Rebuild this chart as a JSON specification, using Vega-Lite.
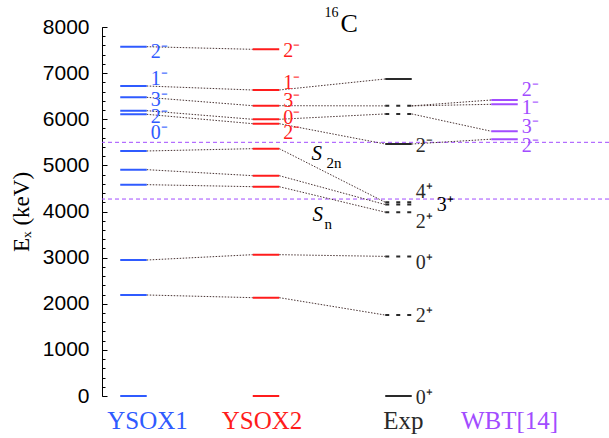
{
  "$schema": "https://vega.github.io/schema/vega-lite/v6.json",
  "width": 507,
  "height": 369,
  "autosize": {"type": "none"},
  "padding": {"left": 102, "top": 27, "right": 0, "bottom": 42},
  "background": "white",
  "config": {"view": {"stroke": null}, "axis": {"grid": false}},
  "resolve": {"axis": {"y": "independent"}},
  "datasets": {
    "slines": [
      {"name": "S2n", "E": 5500},
      {"name": "Sn", "E": 4270}
    ],
    "models": [
      {"m": "YSOX1"}, {"m": "YSOX2"}, {"m": "Exp"}, {"m": "WBT[14]"}
    ],
    "levels": [
      {"m": "YSOX1", "E": 7573, "jp": "2⁻", "lE": 7465, "tent": false},
      {"m": "YSOX1", "E": 6721, "jp": "1⁻", "lE": 6866, "tent": false},
      {"m": "YSOX1", "E": 6475, "jp": "3⁻", "lE": 6417, "tent": false},
      {"m": "YSOX1", "E": 6186, "jp": "2⁻", "lE": 6055, "tent": false},
      {"m": "YSOX1", "E": 6107, "jp": "0⁻", "lE": 5695, "tent": false},
      {"m": "YSOX1", "E": 5312, "jp": "", "lE": 5312, "tent": false},
      {"m": "YSOX1", "E": 4907, "jp": "", "lE": 4907, "tent": false},
      {"m": "YSOX1", "E": 4582, "jp": "", "lE": 4582, "tent": false},
      {"m": "YSOX1", "E": 2948, "jp": "", "lE": 2948, "tent": false},
      {"m": "YSOX1", "E": 2190, "jp": "", "lE": 2190, "tent": false},
      {"m": "YSOX1", "E": 0, "jp": "", "lE": 0, "tent": false},
      {"m": "YSOX2", "E": 7516, "jp": "2⁻", "lE": 7487, "tent": false},
      {"m": "YSOX2", "E": 6634, "jp": "1⁻", "lE": 6776, "tent": false},
      {"m": "YSOX2", "E": 6294, "jp": "3⁻", "lE": 6402, "tent": false},
      {"m": "YSOX2", "E": 5999, "jp": "0⁻", "lE": 6037, "tent": false},
      {"m": "YSOX2", "E": 5904, "jp": "2⁻", "lE": 5695, "tent": false},
      {"m": "YSOX2", "E": 5362, "jp": "", "lE": 5362, "tent": false},
      {"m": "YSOX2", "E": 4777, "jp": "", "lE": 4777, "tent": false},
      {"m": "YSOX2", "E": 4538, "jp": "", "lE": 4538, "tent": false},
      {"m": "YSOX2", "E": 3064, "jp": "", "lE": 3064, "tent": false},
      {"m": "YSOX2", "E": 2132, "jp": "", "lE": 2132, "tent": false},
      {"m": "YSOX2", "E": 0, "jp": "", "lE": 0, "tent": false},
      {"m": "Exp", "E": 6873, "jp": "", "lE": 6873, "tent": false},
      {"m": "Exp", "E": 6290, "jp": "", "lE": 6290, "tent": true},
      {"m": "Exp", "E": 6115, "jp": "", "lE": 6115, "tent": true},
      {"m": "Exp", "E": 5463, "jp": "2⁻", "lE": 5420, "tent": false},
      {"m": "Exp", "E": 4200, "jp": "4⁺", "lE": 4430, "tent": true},
      {"m": "Exp", "E": 4150, "jp": "3⁺", "lE": 4141, "tent": true},
      {"m": "Exp", "E": 3985, "jp": "2⁺", "lE": 3780, "tent": true},
      {"m": "Exp", "E": 3027, "jp": "0⁺", "lE": 2894, "tent": true},
      {"m": "Exp", "E": 1755, "jp": "2⁺", "lE": 1734, "tent": true},
      {"m": "Exp", "E": 0, "jp": "0⁺", "lE": -43, "tent": false},
      {"m": "WBT[14]", "E": 6417, "jp": "2⁻", "lE": 6634, "tent": false},
      {"m": "WBT[14]", "E": 6324, "jp": "1⁻", "lE": 6237, "tent": false},
      {"m": "WBT[14]", "E": 5740, "jp": "3⁻", "lE": 5825, "tent": false},
      {"m": "WBT[14]", "E": 5568, "jp": "2⁻", "lE": 5420, "tent": false}
    ],
    "links": [
      {"from": "YSOX1", "fE": 7573, "to": "YSOX2", "tE": 7516},
      {"from": "YSOX1", "fE": 6721, "to": "YSOX2", "tE": 6634},
      {"from": "YSOX1", "fE": 6475, "to": "YSOX2", "tE": 6294},
      {"from": "YSOX1", "fE": 6186, "to": "YSOX2", "tE": 5999},
      {"from": "YSOX1", "fE": 6107, "to": "YSOX2", "tE": 5904},
      {"from": "YSOX1", "fE": 5312, "to": "YSOX2", "tE": 5362},
      {"from": "YSOX1", "fE": 4907, "to": "YSOX2", "tE": 4777},
      {"from": "YSOX1", "fE": 4582, "to": "YSOX2", "tE": 4538},
      {"from": "YSOX1", "fE": 2948, "to": "YSOX2", "tE": 3064},
      {"from": "YSOX1", "fE": 2190, "to": "YSOX2", "tE": 2132},
      {"from": "YSOX2", "fE": 6634, "to": "Exp", "tE": 6873},
      {"from": "YSOX2", "fE": 6294, "to": "Exp", "tE": 6290},
      {"from": "YSOX2", "fE": 5999, "to": "Exp", "tE": 6115},
      {"from": "YSOX2", "fE": 5904, "to": "Exp", "tE": 5463},
      {"from": "YSOX2", "fE": 5362, "to": "Exp", "tE": 4200},
      {"from": "YSOX2", "fE": 4777, "to": "Exp", "tE": 4150},
      {"from": "YSOX2", "fE": 4538, "to": "Exp", "tE": 3985},
      {"from": "YSOX2", "fE": 3064, "to": "Exp", "tE": 3027},
      {"from": "YSOX2", "fE": 2132, "to": "Exp", "tE": 1755},
      {"from": "Exp", "fE": 6290, "to": "WBT[14]", "tE": 6417},
      {"from": "Exp", "fE": 6290, "to": "WBT[14]", "tE": 6324},
      {"from": "Exp", "fE": 6115, "to": "WBT[14]", "tE": 5740},
      {"from": "Exp", "fE": 5463, "to": "WBT[14]", "tE": 5568}
    ]
  },
  "layer": [
    {
      "data": {"name": "slines"},
      "mark": {"type": "rule", "color": "#a24cff", "strokeDash": [4, 3], "strokeWidth": 1},
      "encoding": {
        "y": {
          "field": "E", "type": "quantitative",
          "scale": {"domain": [0, 8000], "nice": false, "zero": false},
          "axis": {
            "orient": "left", "title": null, "labels": false, "domain": false,
            "tickSize": -3, "tickColor": "#000", "tickWidth": 1,
            "values": [0,200,400,600,800,1000,1200,1400,1600,1800,2000,2200,2400,2600,2800,3000,3200,3400,3600,3800,4000,4200,4400,4600,4800,5000,5200,5400,5600,5800,6000,6200,6400,6600,6800,7000,7200,7400,7600,7800,8000]
          }
        }
      }
    },
    {
      "data": {"name": "links"},
      "mark": {"type": "rule", "color": "#4a3535", "strokeDash": [1.5, 1.5], "strokeWidth": 1},
      "encoding": {
        "x": {
          "field": "from", "type": "nominal", "bandPosition": 1, "axis": null,
          "scale": {"type": "band", "domain": ["YSOX1","_1","_2","_3","_4","YSOX2","_6","_7","_8","_9","Exp","_11","_12","_13","WBT[14]","_15","_16","_17"], "paddingInner": 0, "paddingOuter": 0.566, "align": 0.608}
        },
        "x2": {"field": "to", "bandPosition": 0},
        "y": {"field": "fE", "type": "quantitative", "axis": null, "scale": {"domain": [0, 8000], "nice": false, "zero": false}},
        "y2": {"field": "tE"}
      }
    },
    {
      "data": {"name": "levels"},
      "mark": {"type": "rule", "strokeWidth": 2},
      "encoding": {
        "x": {
          "field": "m", "type": "nominal", "bandPosition": 0, "axis": null,
          "scale": {"type": "band", "domain": ["YSOX1","_1","_2","_3","_4","YSOX2","_6","_7","_8","_9","Exp","_11","_12","_13","WBT[14]","_15","_16","_17"], "paddingInner": 0, "paddingOuter": 0.566, "align": 0.608}
        },
        "x2": {"field": "m", "bandPosition": 1},
        "y": {
          "field": "E", "type": "quantitative",
          "scale": {"domain": [0, 8000], "nice": false, "zero": false},
          "axis": {
            "orient": "left", "title": "Eₓ (keV)", "titleFont": "Liberation Serif", "titleFontSize": 23,
            "titleFontWeight": "normal", "titleColor": "#000", "titlePadding": 9, "format": "d",
            "values": [0,1000,2000,3000,4000,5000,6000,7000,8000],
            "labelFont": "Liberation Sans", "labelFontSize": 21, "labelColor": "#000", "labelPadding": 18,
            "tickSize": -5, "tickColor": "#000", "domainColor": "#000", "domainWidth": 1
          }
        },
        "color": {
          "field": "m", "type": "nominal", "legend": null,
          "scale": {"domain": ["YSOX1", "YSOX2", "Exp", "WBT[14]"], "range": ["#2f5bff", "#ff1c1c", "#2a2a2a", "#a24cff"]}
        },
        "strokeDash": {"condition": {"test": "datum.tent", "value": [4, 7]}, "value": [1, 0]}
      }
    },
    {
      "data": {"name": "levels"},
      "transform": [{"filter": "datum.jp != '' && !(datum.m == 'Exp' && datum.E == 4150)"}],
      "mark": {"type": "text", "align": "left", "baseline": "middle", "dx": 4, "font": "Liberation Serif", "fontSize": 20},
      "encoding": {
        "x": {"field": "m", "type": "nominal", "bandPosition": 1, "axis": null,
          "scale": {"type": "band", "domain": ["YSOX1","_1","_2","_3","_4","YSOX2","_6","_7","_8","_9","Exp","_11","_12","_13","WBT[14]","_15","_16","_17"], "paddingInner": 0, "paddingOuter": 0.566, "align": 0.608}},
        "y": {"field": "lE", "type": "quantitative", "axis": null, "scale": {"domain": [0, 8000], "nice": false, "zero": false}},
        "text": {"field": "jp"},
        "color": {"field": "m", "type": "nominal", "legend": null}
      }
    },
    {
      "data": {"name": "levels"},
      "transform": [{"filter": "datum.m == 'Exp' && datum.E == 4150"}],
      "mark": {"type": "text", "align": "left", "baseline": "middle", "dx": 25, "font": "Liberation Serif", "fontSize": 20, "color": "#000"},
      "encoding": {
        "x": {"field": "m", "type": "nominal", "bandPosition": 1, "axis": null,
          "scale": {"type": "band", "domain": ["YSOX1","_1","_2","_3","_4","YSOX2","_6","_7","_8","_9","Exp","_11","_12","_13","WBT[14]","_15","_16","_17"], "paddingInner": 0, "paddingOuter": 0.566, "align": 0.608}},
        "y": {"field": "lE", "type": "quantitative", "axis": null, "scale": {"domain": [0, 8000], "nice": false, "zero": false}},
        "text": {"field": "jp"}
      }
    },
    {
      "data": {"name": "models"},
      "transform": [{"filter": "datum.m == 'YSOX1'"}],
      "mark": {"type": "text", "align": "center", "baseline": "middle", "dx": 14, "dy": 25, "font": "Liberation Serif", "fontSize": 25},
      "encoding": {
        "x": {"field": "m", "type": "nominal", "axis": null,
          "scale": {"type": "band", "domain": ["YSOX1","_1","_2","_3","_4","YSOX2","_6","_7","_8","_9","Exp","_11","_12","_13","WBT[14]","_15","_16","_17"], "paddingInner": 0, "paddingOuter": 0.566, "align": 0.608}},
        "y": {"datum": 0, "type": "quantitative", "axis": null, "scale": {"domain": [0, 8000], "nice": false, "zero": false}},
        "text": {"field": "m"},
        "color": {"field": "m", "type": "nominal", "legend": null}
      }
    },
    {
      "data": {"name": "models"},
      "transform": [{"filter": "datum.m == 'YSOX2'"}],
      "mark": {"type": "text", "align": "center", "baseline": "middle", "dx": -4, "dy": 25, "font": "Liberation Serif", "fontSize": 25},
      "encoding": {
        "x": {"field": "m", "type": "nominal", "axis": null,
          "scale": {"type": "band", "domain": ["YSOX1","_1","_2","_3","_4","YSOX2","_6","_7","_8","_9","Exp","_11","_12","_13","WBT[14]","_15","_16","_17"], "paddingInner": 0, "paddingOuter": 0.566, "align": 0.608}},
        "y": {"datum": 0, "type": "quantitative", "axis": null, "scale": {"domain": [0, 8000], "nice": false, "zero": false}},
        "text": {"field": "m"},
        "color": {"field": "m", "type": "nominal", "legend": null}
      }
    },
    {
      "data": {"name": "models"},
      "transform": [{"filter": "datum.m == 'Exp' || datum.m == 'WBT[14]'"}],
      "mark": {"type": "text", "align": "center", "baseline": "middle", "dx": 5, "dy": 25, "font": "Liberation Serif", "fontSize": 25},
      "encoding": {
        "x": {"field": "m", "type": "nominal", "axis": null,
          "scale": {"type": "band", "domain": ["YSOX1","_1","_2","_3","_4","YSOX2","_6","_7","_8","_9","Exp","_11","_12","_13","WBT[14]","_15","_16","_17"], "paddingInner": 0, "paddingOuter": 0.566, "align": 0.608}},
        "y": {"datum": 0, "type": "quantitative", "axis": null, "scale": {"domain": [0, 8000], "nice": false, "zero": false}},
        "text": {"field": "m"},
        "color": {"field": "m", "type": "nominal", "legend": null}
      }
    },
    {
      "data": {"values": [{"t": "S", "E": 5257}]},
      "mark": {"type": "text", "align": "left", "baseline": "middle", "font": "Liberation Serif", "fontStyle": "italic", "fontSize": 21, "color": "#000", "dx": -87},
      "encoding": {
        "x": {"datum": "Exp", "type": "nominal", "axis": null,
          "scale": {"type": "band", "domain": ["YSOX1","_1","_2","_3","_4","YSOX2","_6","_7","_8","_9","Exp","_11","_12","_13","WBT[14]","_15","_16","_17"], "paddingInner": 0, "paddingOuter": 0.566, "align": 0.608}},
        "y": {"field": "E", "type": "quantitative", "axis": null, "scale": {"domain": [0, 8000], "nice": false, "zero": false}},
        "text": {"field": "t"}
      }
    },
    {
      "data": {"values": [{"t": "2n", "E": 5051}]},
      "mark": {"type": "text", "align": "left", "baseline": "middle", "font": "Liberation Serif", "fontSize": 15, "color": "#000", "dx": -72},
      "encoding": {
        "x": {"datum": "Exp", "type": "nominal", "axis": null,
          "scale": {"type": "band", "domain": ["YSOX1","_1","_2","_3","_4","YSOX2","_6","_7","_8","_9","Exp","_11","_12","_13","WBT[14]","_15","_16","_17"], "paddingInner": 0, "paddingOuter": 0.566, "align": 0.608}},
        "y": {"field": "E", "type": "quantitative", "axis": null, "scale": {"domain": [0, 8000], "nice": false, "zero": false}},
        "text": {"field": "t"}
      }
    },
    {
      "data": {"values": [{"t": "S", "E": 3924}]},
      "mark": {"type": "text", "align": "left", "baseline": "middle", "font": "Liberation Serif", "fontStyle": "italic", "fontSize": 21, "color": "#000", "dx": -86},
      "encoding": {
        "x": {"datum": "Exp", "type": "nominal", "axis": null,
          "scale": {"type": "band", "domain": ["YSOX1","_1","_2","_3","_4","YSOX2","_6","_7","_8","_9","Exp","_11","_12","_13","WBT[14]","_15","_16","_17"], "paddingInner": 0, "paddingOuter": 0.566, "align": 0.608}},
        "y": {"field": "E", "type": "quantitative", "axis": null, "scale": {"domain": [0, 8000], "nice": false, "zero": false}},
        "text": {"field": "t"}
      }
    },
    {
      "data": {"values": [{"t": "n", "E": 3730}]},
      "mark": {"type": "text", "align": "left", "baseline": "middle", "font": "Liberation Serif", "fontSize": 15, "color": "#000", "dx": -74},
      "encoding": {
        "x": {"datum": "Exp", "type": "nominal", "axis": null,
          "scale": {"type": "band", "domain": ["YSOX1","_1","_2","_3","_4","YSOX2","_6","_7","_8","_9","Exp","_11","_12","_13","WBT[14]","_15","_16","_17"], "paddingInner": 0, "paddingOuter": 0.566, "align": 0.608}},
        "y": {"field": "E", "type": "quantitative", "axis": null, "scale": {"domain": [0, 8000], "nice": false, "zero": false}},
        "text": {"field": "t"}
      }
    },
    {
      "data": {"values": [{"t": "C"}]},
      "mark": {"type": "text", "align": "left", "baseline": "alphabetic", "font": "Liberation Serif", "fontSize": 26, "color": "#000", "dx": -58, "dy": 5},
      "encoding": {
        "x": {"datum": "Exp", "type": "nominal", "axis": null,
          "scale": {"type": "band", "domain": ["YSOX1","_1","_2","_3","_4","YSOX2","_6","_7","_8","_9","Exp","_11","_12","_13","WBT[14]","_15","_16","_17"], "paddingInner": 0, "paddingOuter": 0.566, "align": 0.608}},
        "y": {"datum": 8000, "type": "quantitative", "axis": null, "scale": {"domain": [0, 8000], "nice": false, "zero": false}},
        "text": {"field": "t"}
      }
    },
    {
      "data": {"values": [{"t": "16"}]},
      "mark": {"type": "text", "align": "right", "baseline": "alphabetic", "font": "Liberation Serif", "fontSize": 14, "color": "#000", "dx": -60, "dy": -10},
      "encoding": {
        "x": {"datum": "Exp", "type": "nominal", "axis": null,
          "scale": {"type": "band", "domain": ["YSOX1","_1","_2","_3","_4","YSOX2","_6","_7","_8","_9","Exp","_11","_12","_13","WBT[14]","_15","_16","_17"], "paddingInner": 0, "paddingOuter": 0.566, "align": 0.608}},
        "y": {"datum": 8000, "type": "quantitative", "axis": null, "scale": {"domain": [0, 8000], "nice": false, "zero": false}},
        "text": {"field": "t"}
      }
    }
  ]
}
